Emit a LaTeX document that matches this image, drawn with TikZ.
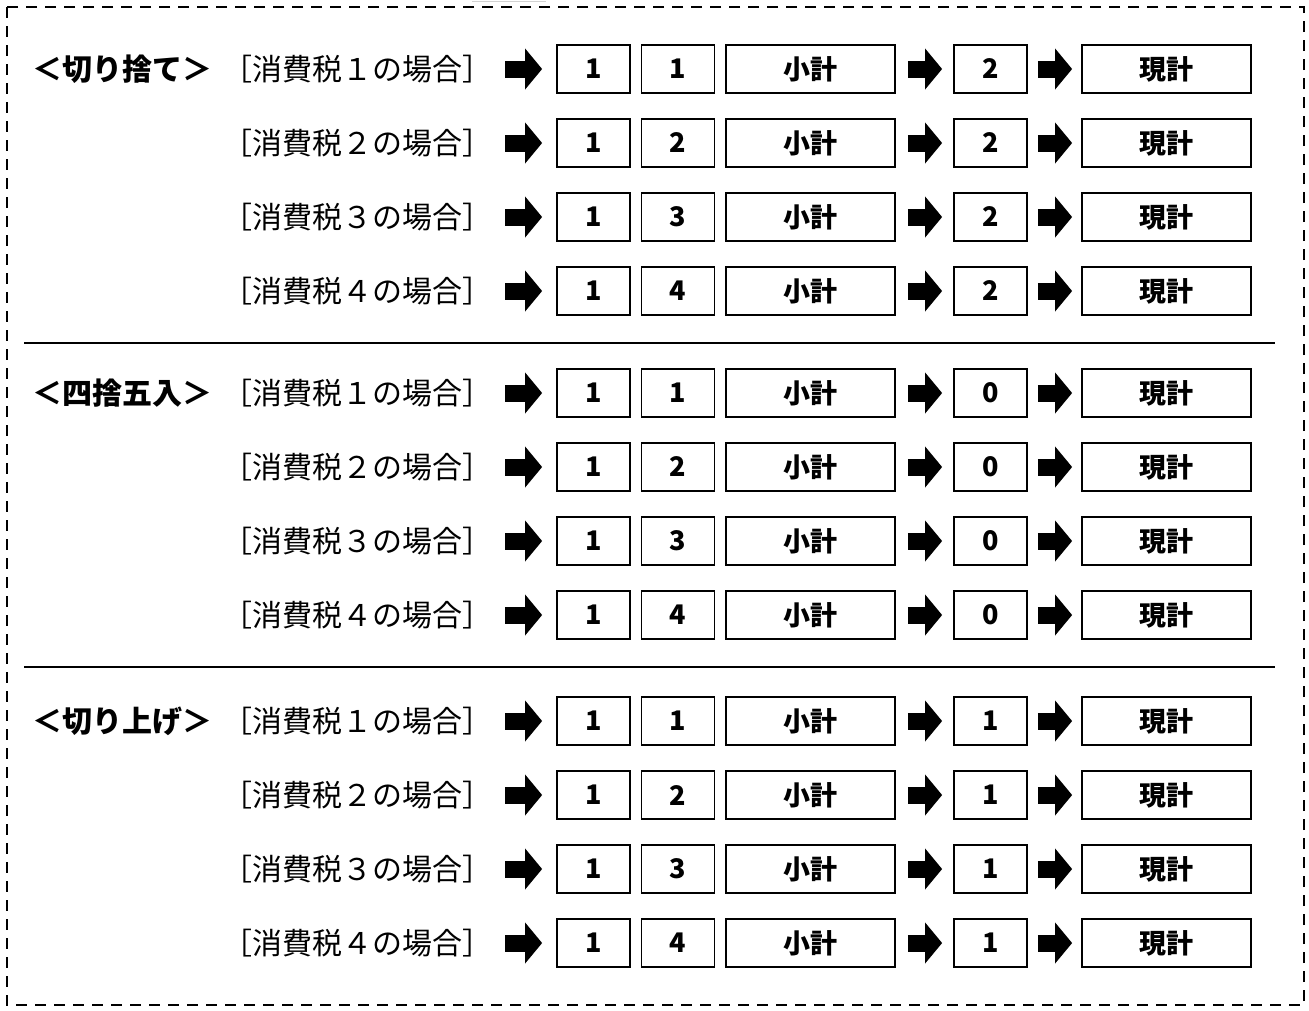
\documentclass[tikz,border=0pt]{standalone}
\usepackage{fontspec}
\setmainfont{Noto Sans CJK JP}
\usetikzlibrary{arrows.meta}
\begin{document}
\begin{tikzpicture}[x=1pt,y=-1pt,
  cell/.style={draw, line width=1.8pt, minimum height=48pt, inner sep=0pt, font=\bfseries\fontsize{27}{27}\selectfont},
  num/.style={cell, minimum width=73pt},
  wide/.style={cell, minimum width=169pt},
  big/.style={line width=17pt, -{Triangle[length=17pt,width=41pt,line width=0pt]}},
  lab/.style={anchor=west, inner sep=0pt, font=\fontsize{30}{30}\selectfont},
  head/.style={anchor=west, inner sep=0pt, font=\bfseries\fontsize{30}{30}\selectfont},
  sep/.style={line width=1.4pt},
  frame/.style={line width=2.8pt, dash pattern=on 11pt off 8pt}]
\useasboundingbox (0,0) rectangle (1309,1010);
\draw[frame] (7,7) rectangle (1304,1005);
\draw[gray!35, line width=1pt] (472,1) -- (546,1);
\draw[sep] (24,343) -- (1275,343);
\draw[sep] (24,667) -- (1275,667);
\foreach \s/\res/\title/\base in {1/2/＜切り捨て＞/69, 2/0/＜四捨五入＞/393, 3/1/＜切り上げ＞/721}{
  \node[head] (h\s) at (32,\base) {\title};
  \foreach \r/\fw in {1/１,2/２,3/３,4/４}{
    \pgfmathsetmacro\yy{\base+(\r-1)*74}
    \node[lab] (l\s\r) at (222,\yy) {［消費税\fw の場合］};
    \node[num]  (a\s\r) at (593.5,\yy) {1};
    \node[num]  (b\s\r) at (678,\yy) {\r};
    \node[wide] (c\s\r) at (810.5,\yy) {小計};
    \node[num]  (d\s\r) at (990.5,\yy) {\res};
    \node[wide] (e\s\r) at (1166.5,\yy) {現計};
    \draw[big, shorten >=14pt] ([xshift=13pt]l\s\r.east) -- (a\s\r.west);
    \draw[big, shorten <=12pt, shorten >=11pt] (c\s\r.east) -- (d\s\r.west);
    \draw[big, shorten <=10pt, shorten >=9pt] (d\s\r.east) -- (e\s\r.west);
  }
}
\end{tikzpicture}
\end{document}
